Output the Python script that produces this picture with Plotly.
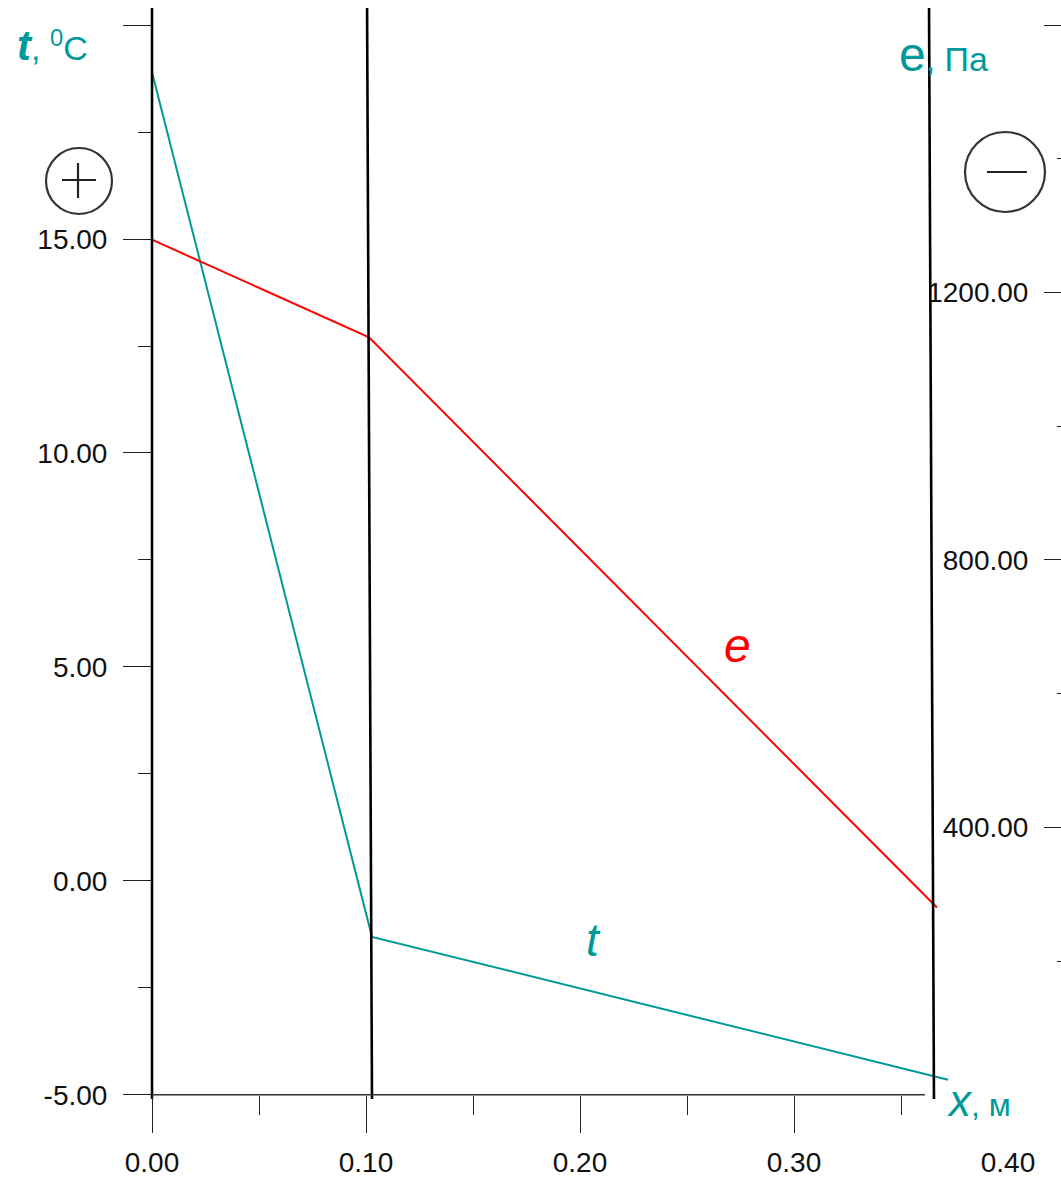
import plotly.graph_objects as go

# ---- data ----
x_t = [0.0, 0.1028, 0.372]          # m
t_vals = [18.9, -1.31, -4.65]        # °C
x_e = [0.0, 0.1014, 0.3668]          # m
e_vals = [1279, 1133, 280]           # Pa

wall_top = [0.0, 0.1005, 0.3631]
wall_bottom = [0.0, 0.1028, 0.3654]

x_ticks = [0.0, 0.1, 0.2, 0.3, 0.4]
x_tick_text = ["0.00", "0.10", "0.20", "0.30", "0.40"]
x_major_marks = [0.0, 0.1, 0.2, 0.3]
x_minor_marks = [0.05, 0.15, 0.25, 0.35]
t_ticks = [-5, 0, 5, 10, 15]
t_tick_text = ["-5.00", "0.00", "5.00", "10.00", "15.00"]
t_unlabelled = [20]
t_minor = [-2.5, 2.5, 7.5, 12.5, 17.5]
e_ticks = [400, 800, 1200]
e_tick_text = ["400.00", "800.00", "1200.00"]
e_unlabelled = [1600]
e_minor = [200, 600, 1000, 1400]

TEAL = "#009999"
RED = "#ff0000"
FONT = "Liberation Sans Narrow, Arial Narrow, Liberation Sans, Arial, sans-serif"
LFONT = "Liberation Sans, Arial, sans-serif"
TICKC = "#222222"

W, H = 1061, 1180
ML, MR, MT, MB = 130, 0, 8, 81
PW, PH = W - ML - MR, H - MT - MB
T_RANGE = [-5.1, 20.4]
E_RANGE = [(T_RANGE[0] + 5) * 64, (T_RANGE[1] + 5) * 64]
PX_PER_X = 2140.0
X_RANGE = [-(152 - ML) / PX_PER_X, -(152 - ML) / PX_PER_X + PW / PX_PER_X]

def px(x):
    return (x - ML) / PW

def py(y):
    return (MT + PH - y) / PH

fig = go.Figure()

# wall boundaries
for xt, xb in zip(wall_top, wall_bottom):
    fig.add_trace(go.Scatter(x=[xt, xb], y=[T_RANGE[1], T_RANGE[0]], mode="lines",
                             line=dict(color="black", width=2.6), xaxis="x2", yaxis="y",
                             hoverinfo="skip", showlegend=False))

# x axis line
fig.add_trace(go.Scatter(x=[0.0, 0.3612], y=[-5, -5], mode="lines",
                         line=dict(color="#333333", width=1.6), xaxis="x2", yaxis="y",
                         hoverinfo="skip", showlegend=False))

fig.add_trace(go.Scatter(x=x_e, y=e_vals, mode="lines", line=dict(color=RED, width=2),
                         xaxis="x", yaxis="y2", showlegend=False, name="e"))
fig.add_trace(go.Scatter(x=x_t, y=t_vals, mode="lines", line=dict(color=TEAL, width=2),
                         xaxis="x", yaxis="y", showlegend=False, name="t"))
# empty traces so the tick-only overlay axes are drawn
fig.add_trace(go.Scatter(x=[], y=[], xaxis="x", yaxis="y3", showlegend=False, hoverinfo="skip"))
fig.add_trace(go.Scatter(x=[], y=[], xaxis="x", yaxis="y4", showlegend=False, hoverinfo="skip"))

tickfont = dict(family=FONT, size=28, color="#111111")

fig.update_layout(
    width=W, height=H,
    margin=dict(l=ML, r=MR, t=MT, b=MB),
    paper_bgcolor="white", plot_bgcolor="white",
    showlegend=False,
    xaxis=dict(range=X_RANGE, showgrid=False, zeroline=False, showline=False,
               tickmode="array", tickvals=x_ticks, ticktext=x_tick_text, ticks="",
               tickfont=tickfont, anchor="free", position=0.1 / 25.5,
               ticklabelstandoff=48),
    xaxis2=dict(range=X_RANGE, overlaying="x", showgrid=False, zeroline=False, showline=False,
                tickmode="array", tickvals=x_major_marks, ticks="outside", ticklen=37,
                tickwidth=1.3, tickcolor=TICKC, showticklabels=False,
                anchor="free", position=0.1 / 25.5, side="bottom",
                minor=dict(tickmode="array", tickvals=x_minor_marks, ticks="outside",
                           ticklen=19, tickwidth=1.3, tickcolor=TICKC, showgrid=False)),
    yaxis=dict(range=T_RANGE, showgrid=False, zeroline=False, showline=False,
               tickmode="array", tickvals=t_ticks, ticktext=t_tick_text,
               ticks="outside", ticklen=29, tickwidth=1.3, tickcolor=TICKC,
               tickfont=tickfont, anchor="free", position=px(152),
               ticklabelstandoff=10,
               minor=dict(tickmode="array", tickvals=t_minor, ticks="outside",
                          ticklen=14, tickwidth=1.3, tickcolor=TICKC, showgrid=False)),
    yaxis3=dict(range=T_RANGE, overlaying="y", side="left", anchor="free", position=px(152),
                showgrid=False, zeroline=False, showline=False,
                tickmode="array", tickvals=t_unlabelled, showticklabels=False,
                ticks="outside", ticklen=29, tickwidth=1.3, tickcolor=TICKC),
    yaxis2=dict(range=E_RANGE, overlaying="y", side="left", anchor="free", position=1.0,
                showgrid=False, zeroline=False, showline=False,
                tickmode="array", tickvals=e_ticks, ticktext=e_tick_text,
                ticks="outside", ticklen=17, tickwidth=1.3, tickcolor=TICKC,
                tickfont=tickfont, ticklabelstandoff=10,
                minor=dict(tickmode="array", tickvals=e_minor, ticks="outside",
                           ticklen=4, tickwidth=1.3, tickcolor=TICKC, showgrid=False)),
    yaxis4=dict(range=E_RANGE, overlaying="y", side="left", anchor="free", position=1.0,
                showgrid=False, zeroline=False, showline=False,
                tickmode="array", tickvals=e_unlabelled, showticklabels=False,
                ticks="outside", ticklen=17, tickwidth=1.3, tickcolor=TICKC),
)

# axis titles and curve labels
fig.add_annotation(xref="paper", yref="paper", x=px(15), y=py(46), xanchor="left", yanchor="middle",
                   text="<b><i><span style='font-size:42px'>t</span></i></b>, <sup>0</sup>C",
                   showarrow=False, font=dict(family=LFONT, size=34, color=TEAL))
fig.add_annotation(xref="paper", yref="paper", x=px(897), y=py(54), xanchor="left", yanchor="middle",
                   text="<span style='font-size:48px'>e</span>, Па", showarrow=False,
                   font=dict(family=LFONT, size=34, color=TEAL))
fig.add_annotation(xref="paper", yref="paper", x=px(945), y=py(1100), xanchor="left", yanchor="middle",
                   text="<i><span style='font-size:44px'>x</span></i>, м", showarrow=False,
                   font=dict(family=LFONT, size=32, color=TEAL))
fig.add_annotation(xref="paper", yref="paper", x=px(737), y=py(645), xanchor="center", yanchor="middle",
                   text="<i>e</i>", showarrow=False,
                   font=dict(family=LFONT, size=48, color=RED))
fig.add_annotation(xref="paper", yref="paper", x=px(593), y=py(940), xanchor="center", yanchor="middle",
                   text="<i>t</i>", showarrow=False,
                   font=dict(family=LFONT, size=46, color=TEAL))

# circled plus / minus signs
def circle(cx, cy, r):
    fig.add_shape(type="circle", xref="paper", yref="paper",
                  x0=px(cx - r), x1=px(cx + r), y0=py(cy + r), y1=py(cy - r),
                  line=dict(color="#333333", width=2.2))

def seg(x0, y0, x1, y1):
    fig.add_shape(type="line", xref="paper", yref="paper",
                  x0=px(x0), x1=px(x1), y0=py(y0), y1=py(y1),
                  line=dict(color="#222222", width=2.2))

circle(79, 181, 33)
seg(62, 180, 96, 180)
seg(78, 163, 78, 198)
circle(1005, 172, 40)
seg(987, 172, 1027, 172)

fig.write_html("out.html", config={"displayModeBar": False},
               post_script="document.body.style.margin='0';document.body.style.overflow='hidden';")
